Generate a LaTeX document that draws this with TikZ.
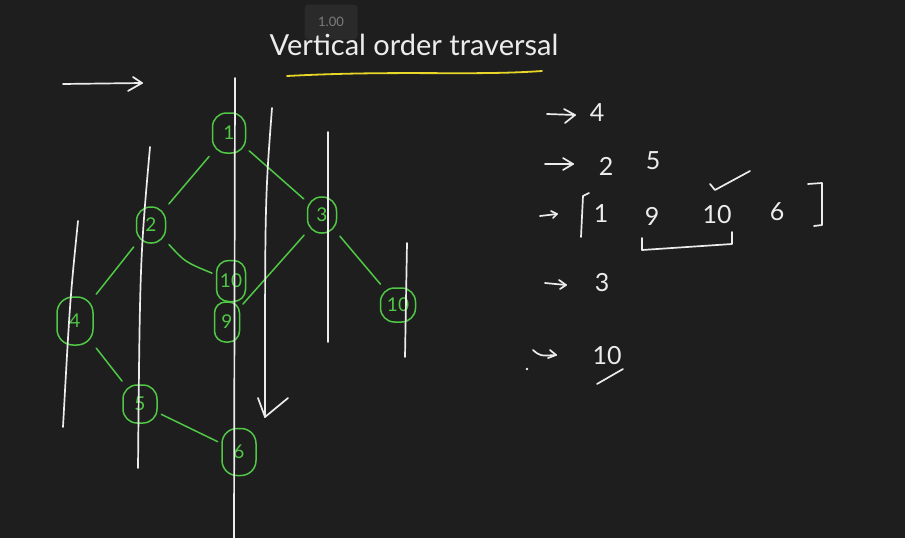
\documentclass[tikz,border=0pt]{standalone}
\usepackage{fontspec}
\setmainfont{Lato}
\definecolor{bg}{RGB}{30,30,30}
\definecolor{chalk}{RGB}{236,236,236}
\definecolor{grn}{RGB}{80,200,70}
\definecolor{ylw}{RGB}{232,214,40}
\definecolor{ovl}{RGB}{42,42,42}
\definecolor{ovltext}{RGB}{125,125,125}
\tikzset{
  tn/.style={draw=grn, line width=1.5pt, rounded corners=14pt, text=grn,
    font=\fontsize{19}{19}\selectfont, inner sep=0pt},
  gline/.style={draw=grn, line width=1.5pt, shorten >=4pt, shorten <=4pt, line cap=round},
  vline/.style={draw=chalk, line width=1.7pt, line cap=round, line join=round},
  hw/.style={text=chalk, font=\fontsize{25}{25}\selectfont, inner sep=0pt},
}
\begin{document}
\begin{tikzpicture}[x=1pt,y=-1pt]
\fill[bg] (0,0) rectangle (905,538);
\useasboundingbox (0,0) rectangle (905,538);

% speed overlay
\node[fill=ovl, rounded corners=4pt, minimum width=53pt, minimum height=35pt, text=ovltext,
  font=\fontsize{13}{13}\selectfont] (speed) at (331,22) {1.00};

% title
\node[hw, font=\fontsize{29}{29}\selectfont] (title) at (414,45) {Vertical order traversal};
\coordinate (ul1) at (287,76);
\coordinate (ul2) at (542,71);
\draw[draw=ylw, line width=1.8pt, line cap=round] (ul1) .. controls (400,70) and (470,76) .. (ul2);

% top-left arrow
\coordinate (ta1) at (63,84);
\coordinate (ta2) at (142,83);
\draw[vline] (ta1) -- (ta2);
\draw[vline] ([shift={(-9,-6)}]ta2) -- (ta2) -- ([shift={(-14,8)}]ta2);

% tree nodes
\node[tn, minimum width=33pt, minimum height=40pt] (n1) at (229,133) {1};
\node[tn, minimum width=29pt, minimum height=36pt] (n2) at (151,225) {2};
\node[tn, minimum width=29pt, minimum height=36pt] (n3) at (322,215) {3};
\node[tn, minimum width=29pt, minimum height=41pt, rounded corners=12pt] (n10a) at (231,281) {10};
\node[tn, minimum width=25pt, minimum height=40pt, rounded corners=11pt] (n9) at (227,322) {9};
\node[tn, minimum width=36pt, minimum height=48pt, rounded corners=16pt] (n4) at (75,321) {4};
\node[tn, minimum width=35pt, minimum height=34pt] (n10b) at (398,305) {10};
\node[tn, minimum width=34pt, minimum height=38pt] (n5) at (140,404) {5};
\node[tn, minimum width=34pt, minimum height=47pt, rounded corners=15pt] (n6) at (239,452) {6};

% tree edges
\draw[gline] (n1) -- (n2);
\draw[gline] (n1) -- (n3);
\draw[gline] (n2) -- (n4);
\draw[gline] (n2) .. controls (185,262) .. (n10a);
\draw[gline] (n3) -- (n9);
\draw[gline] (n3) -- (n10b);
\draw[gline] (n4) -- (n5);
\draw[gline] (n5) -- (n6);

% vertical lines
\coordinate (v1t) at (78,221);  \coordinate (v1b) at (63,427);
\coordinate (v2t) at (150,147); \coordinate (v2b) at (138,468);
\coordinate (v3t) at (235,78);  \coordinate (v3b) at (234,538);
\coordinate (v4t) at (272,108); \coordinate (v4b) at (265,417);
\coordinate (v5t) at (328,132); \coordinate (v5b) at (328,342);
\coordinate (v6t) at (407,243); \coordinate (v6b) at (405,357);
\draw[vline] (v1t) .. controls (70,300) .. (v1b);
\draw[vline] (v2t) .. controls (140,260) .. (v2b);
\draw[vline] (v3t) -- (v3b);
\draw[vline] (v4t) .. controls (265,200) .. (v4b);
\draw[vline] (v5t) -- (v5b);
\draw[vline] (v6t) -- (v6b);
\draw[vline] ([shift={(-7,-19)}]v4b) -- (v4b) -- ([shift={(23,-19)}]v4b);

% right-hand list
\coordinate (r1a) at (547,114); \coordinate (r1b) at (575,115);
\draw[vline] (r1a) -- (r1b);
\draw[vline] ([shift={(-11,-6)}]r1b) -- (r1b) -- ([shift={(-10,8)}]r1b);
\node[hw] (t4) at (597,113) {4};

\coordinate (r2a) at (545,164); \coordinate (r2b) at (573,164);
\draw[vline] (r2a) -- (r2b);
\draw[vline] ([shift={(-10,-6)}]r2b) -- (r2b) -- ([shift={(-10,6)}]r2b);
\node[hw] (t2) at (606,166) {2};
\node[hw] (t5) at (653,161) {5};

\coordinate (r3a) at (540,216); \coordinate (r3b) at (557,214);
\draw[vline] (r3a) -- (r3b);
\draw[vline] ([shift={(-6,-3)}]r3b) -- (r3b) -- ([shift={(-4,4)}]r3b);
\coordinate (lb1) at (589,193); \coordinate (lb2) at (581,237);
\draw[vline] (lb1) -- (583,196) -- (lb2);
\node[hw] (t1) at (601,214) {1};
\node[hw] (t9) at (652,216) {9};
\node[hw] (t10a) at (717,215) {10};
\node[hw] (t6) at (777,212) {6};
\coordinate (rb1) at (808,184); \coordinate (rb2) at (814,226);
\draw[vline] (rb1) -- (822,183) -- (822,225) -- (rb2);
\coordinate (ck1) at (710,184);
\coordinate (ck2) at (750,171);
\draw[vline] (ck1) -- (715,190) -- (ck2);
\coordinate (ub1) at (642,238);
\coordinate (ub2) at (732,232);
\draw[vline] (ub1) -- (642,250) -- (732,244) -- (ub2);

\coordinate (r4a) at (545,283); \coordinate (r4b) at (566,285);
\draw[vline] (r4a) -- (r4b);
\draw[vline] ([shift={(-7,-5)}]r4b) -- (r4b) -- ([shift={(-6,4)}]r4b);
\node[hw] (t3) at (602,283) {3};

\fill[chalk] (527,369) circle (1.3pt);
\coordinate (r5a) at (533,350); \coordinate (r5b) at (556,355);
\draw[vline] (r5a) .. controls (540,356) .. (r5b);
\draw[vline] ([shift={(-6,-5)}]r5b) -- (r5b) -- ([shift={(-8,3)}]r5b);
\node[hw] (t10b) at (607,356) {10};
\coordinate (uc1) at (597,384); \coordinate (uc2) at (623,369);
\draw[vline] (uc1) -- (uc2);
\end{tikzpicture}
\end{document}
